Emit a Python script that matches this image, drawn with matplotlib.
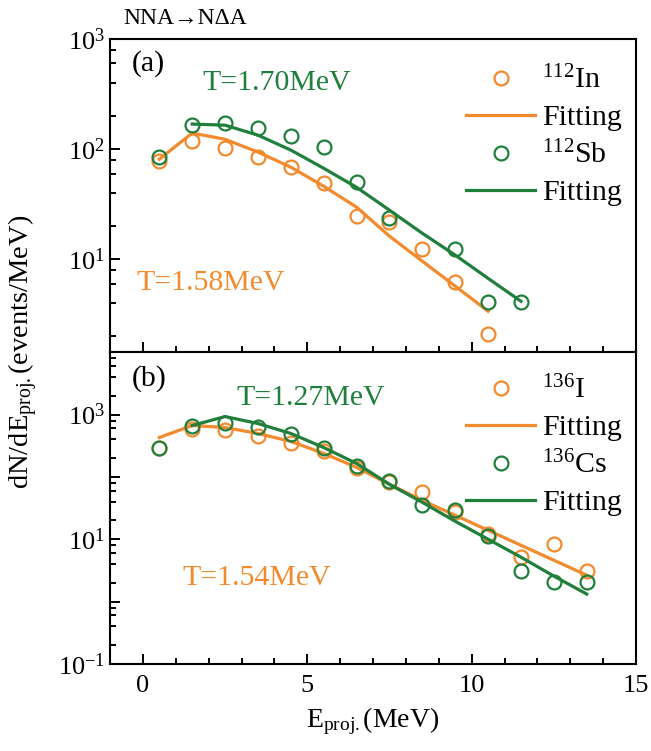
import numpy as np
import matplotlib
matplotlib.use("Agg")
import matplotlib.pyplot as plt
from matplotlib.ticker import LogLocator, MultipleLocator, NullFormatter

plt.rcParams['font.family'] = ['Liberation Serif', 'DejaVu Serif']
plt.rcParams['mathtext.fontset'] = 'custom'
plt.rcParams['mathtext.rm'] = 'Liberation Serif'
plt.rcParams['mathtext.it'] = 'Liberation Serif:italic'

ORANGE = '#F28A2E'
GREEN = '#1F7F3B'

# panel (a): A=112
x_in = [0.5, 1.5, 2.5, 3.5, 4.5, 5.5, 6.5, 7.5, 8.5, 9.5, 10.5]
y_in = [78, 118, 102, 84.5, 68.6, 49, 24.6, 21.7, 12.3, 6.2, 2.08]
x_in_fit = [0.5, 1.5, 2.5, 3.5, 4.5, 5.5, 6.5, 7.5, 8.5, 9.5, 10.5]
y_in_fit = [81, 140, 123, 94, 68.6, 46, 29.7, 16.2, 9.6, 5.7, 3.37]

x_sb = [0.5, 1.5, 2.5, 3.5, 4.5, 5.5, 6.5, 7.5, 9.5, 10.5, 11.5]
y_sb = [84.5, 165, 172, 155, 131, 104, 50, 23.6, 12.3, 4.07, 4.07]
x_sb_fit = [1.5, 2.5, 3.5, 4.5, 5.5, 6.5, 7.5, 8.5, 9.5, 10.5, 11.5]
y_sb_fit = [169, 165, 134, 98, 67, 45, 27.9, 17.2, 10.9, 6.7, 4.15]

# panel (b): A=136
x_i = [0.5, 1.5, 2.5, 3.5, 4.5, 5.5, 6.5, 7.5, 8.5, 9.5, 10.5, 11.5, 12.5, 13.5]
y_i = [286, 597, 555, 461, 356, 265, 137, 81.6, 56.5, 27, 12, 5.15, 8.3, 3.08]
x_i_fit = [0.5, 1.5, 2.5, 3.5, 4.5, 5.5, 6.5, 7.5, 8.5, 9.5, 10.5, 11.5, 12.5, 13.5]
y_i_fit = [428, 667, 620, 497, 370, 238, 142, 76, 42, 24.2, 13.9, 8.0, 4.6, 2.65]

x_cs = [0.5, 1.5, 2.5, 3.5, 4.5, 5.5, 6.5, 7.5, 8.5, 9.5, 10.5, 11.5, 12.5, 13.5]
y_cs = [286, 667, 745, 643, 479, 286, 147, 84.7, 35, 29.1, 11.2, 3.08, 2.05, 2.05]
x_cs_fit = [1.5, 2.5, 3.5, 4.5, 5.5, 6.5, 7.5, 8.5, 9.5, 10.5, 11.5, 12.5, 13.5]
y_cs_fit = [667, 929, 718, 497, 296, 164, 76, 39, 19.4, 10, 5.15, 2.56, 1.32]

FS = 21.5

fig = plt.figure(figsize=(6.51, 7.51), dpi=100)
left, width = 0.169, 0.808
ax_a = fig.add_axes([left, 0.531, width, 0.417])
ax_b = fig.add_axes([left, 0.116, width, 0.415])


def style_axis(ax, ylim, label_decades):
    ax.set_yscale('log')
    ax.set_xlim(-1, 15)
    ax.xaxis.set_major_locator(MultipleLocator(5))
    ax.xaxis.set_minor_locator(MultipleLocator(1))
    ax.yaxis.set_minor_locator(LogLocator(base=10, subs=(2, 4, 6, 8), numticks=20))
    ax.yaxis.set_minor_formatter(NullFormatter())
    decades = list(range(-1, 5))
    ax.set_yticks([10.0 ** d for d in decades])
    ax.set_yticklabels([r'$10^{%d}$' % d if d in label_decades else '' for d in decades])
    ax.set_ylim(*ylim)
    ax.tick_params(which='both', direction='in', top=False, right=False,
                   labelsize=19, width=1.4)
    ax.tick_params(which='major', length=7)
    ax.tick_params(which='minor', length=4.5)
    for s in ax.spines.values():
        s.set_linewidth(1.5)


def draw(ax, xo, yo, xof, yof, xg, yg, xgf, ygf, lab_o, lab_g, anchor_y):
    ho, = ax.plot(xo, yo, 'o', ms=10, mfc='none', mec=ORANGE, mew=1.6)
    hof, = ax.plot(xof, yof, '-', color=ORANGE, lw=2.3)
    hg, = ax.plot(xg, yg, 'o', ms=10, mfc='none', mec=GREEN, mew=1.6)
    hgf, = ax.plot(xgf, ygf, '-', color=GREEN, lw=2.3)
    ax.legend([ho, hof, hg, hgf], [lab_o, 'Fitting', lab_g, 'Fitting'],
              loc='upper right', bbox_to_anchor=(1.022, anchor_y), frameon=False,
              fontsize=FS, numpoints=1, handlelength=2.3, handletextpad=0.25,
              labelspacing=0.33, borderaxespad=0.45)


style_axis(ax_a, (1.43, 1000), [1, 2, 3])
draw(ax_a, x_in, y_in, x_in_fit, y_in_fit, x_sb, y_sb, x_sb_fit, y_sb_fit,
     r'$^{112}$In', r'$^{112}$Sb', 0.995)
ax_a.tick_params(labelbottom=False)

style_axis(ax_b, (0.1, 1e4), [-1, 1, 3])
draw(ax_b, x_i, y_i, x_i_fit, y_i_fit, x_cs, y_cs, x_cs_fit, y_cs_fit,
     r'$^{136}$I', r'$^{136}$Cs', 1.005)

ax_a.text(0.042, 0.923, '(a)', transform=ax_a.transAxes, fontsize=FS, va='center')
ax_b.text(0.042, 0.917, '(b)', transform=ax_b.transAxes, fontsize=FS, va='center')
ax_a.text(0.175, 0.859, 'T=1.70MeV', transform=ax_a.transAxes, fontsize=FS,
          color=GREEN, va='center')
ax_a.text(0.051, 0.22, 'T=1.58MeV', transform=ax_a.transAxes, fontsize=FS,
          color=ORANGE, va='center')
ax_b.text(0.241, 0.853, 'T=1.27MeV', transform=ax_b.transAxes, fontsize=FS,
          color=GREEN, va='center')
ax_b.text(0.137, 0.276, 'T=1.54MeV', transform=ax_b.transAxes, fontsize=FS,
          color=ORANGE, va='center')

ax_b.set_xlabel(r'E$_{\rm proj.}$(MeV)', fontsize=20, labelpad=6)
ax_b.tick_params(axis='x', pad=8)
fig.text(0.035, 0.531, r'dN/dE$_{\rm proj.}$(events/MeV)', rotation=90,
         fontsize=20.5, va='center', ha='center')
fig.text(0.19, 0.975, 'NNA\u2192N\u0394A', fontsize=17, va='center')

fig.savefig('out.png', dpi=100)
